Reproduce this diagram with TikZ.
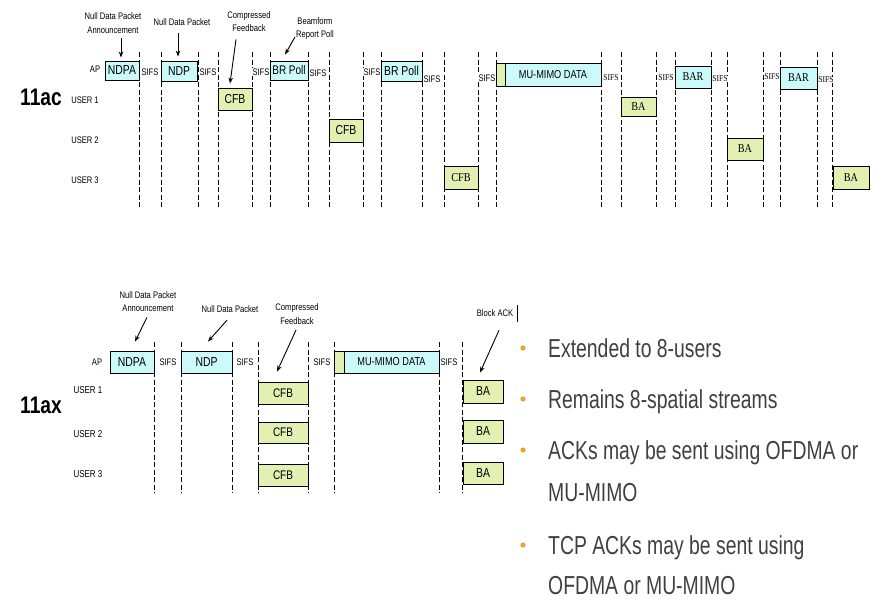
\documentclass[tikz,border=0pt]{standalone}
\usepackage{fontspec}
\setmainfont{Liberation Sans}
\newfontfamily\nar[FakeStretch=0.8]{Liberation Sans}
\newfontfamily\nars[FakeStretch=0.85]{Liberation Serif}
\newfontfamily\bul[FakeStretch=0.745]{Liberation Sans}
\usetikzlibrary{arrows.meta}
\definecolor{cyanfill}{RGB}{204,250,250}
\definecolor{greenfill}{RGB}{226,240,178}
\definecolor{bultext}{RGB}{64,64,64}
\definecolor{bulorange}{RGB}{240,160,48}
\begin{document}
\begin{tikzpicture}[x=1pt,y=-1pt,
  bs/.style 2 args={minimum width=#1pt,minimum height=#2pt},
  cybox/.style={draw=black,line width=0.9pt,inner sep=0pt,fill=cyanfill},
  grbox/.style={draw=black,line width=0.9pt,inner sep=0pt,fill=greenfill},
  fs/.style={font=\nar\fontsize{#1}{#1}\selectfont},
  sfs/.style={font=\nars\fontsize{#1}{#1}\selectfont},
  lbl/.style={inner sep=0pt,font=\nar\fontsize{#1}{#1}\selectfont},
  slbl/.style={inner sep=0pt,font=\nars\fontsize{#1}{#1}\selectfont},
  big/.style={inner sep=0pt,font=\nar\bfseries\fontsize{24}{24}\selectfont},
  vl/.style={line width=0.7pt,dash pattern=on 5pt off 2.5pt},
  arr/.style={-{Stealth[length=6pt,width=4.5pt]},line width=0.9pt},
  ann/.style={align=center,inner sep=1pt,font=\nar\fontsize{9.5}{13.5}\selectfont},
  bt/.style={inner sep=0pt,font=\bul\fontsize{26}{26}\selectfont,text=bultext}
]
\useasboundingbox (0,0) rectangle (891,605);
\fill[white] (0,0) rectangle (891,605);

% ---------- 11ac ----------
\foreach \x in {139,161,198,218,252,270,308,329,363,381,422,444,478,496,601,621,656,675,711,727,763,780,817,832}
  \draw[vl] (\x,52) -- (\x,207);

\node[big] (t11ac) at (41,97) {11ac};
\node[lbl=9.5] (tap) at (95,69) {AP};
\node[lbl=9.5] (tu1) at (85,100) {USER 1};
\node[lbl=9.5] (tu2) at (85,140) {USER 2};
\node[lbl=9.5] (tu3) at (85,180) {USER 3};

\node[cybox,bs={34}{19},fs=13] (tndpa) at (122,70.5) {NDPA};
\node[cybox,bs={36}{20},fs=13] (tndp) at (179,71) {NDP};
\node[cybox,bs={38}{19},fs=12.5] (tbr1) at (289,70.5) {BR Poll};
\node[cybox,bs={41}{20},fs=13] (tbr2) at (401.5,71) {BR Poll};
\node[grbox,bs={9}{23}] (tpre) at (500.5,74.5) {};
\node[cybox,bs={96}{23},fs=11.5] (tdata) at (553,74.5) {MU-MIMO DATA};
\node[cybox,bs={36}{22},sfs=12] (tbar1) at (693,77) {BAR};
\node[cybox,bs={37}{22},sfs=12] (tbar2) at (798.5,78) {BAR};
\node[grbox,bs={34}{22},fs=13] (tcfb1) at (235,99) {CFB};
\node[grbox,bs={34}{23},fs=13] (tcfb2) at (346,130.5) {CFB};
\node[grbox,bs={34}{23},sfs=12] (tcfb3) at (461,177.5) {CFB};
\node[grbox,bs={35}{19},sfs=12] (tba1) at (638.5,106.5) {BA};
\node[grbox,bs={36}{22},sfs=12] (tba2) at (745,149) {BA};
\node[grbox,bs={36}{23},sfs=12] (tba3) at (851,177.5) {BA};

\foreach \x/\y [count=\i] in {150/72,208/72,261/72,318/73,372/72,432/79,487/78}
  \node[lbl=9.5,fill=white,inner sep=0.3pt] (ts\i) at (\x,\y) {SIFS};
\foreach \x/\y [count=\i] in {611/78,666/78,720/79,772/77,826/80}
  \node[slbl=9,fill=white,inner sep=0.3pt] (tss\i) at (\x,\y) {SIFS};

\node[ann] (ta1) at (113,23) {Null Data Packet\\Announcement};
\node[ann] (ta2) at (182,22) {Null Data Packet};
\node[ann] (ta3) at (249,21.5) {Compressed\\Feedback};
\node[ann] (ta4) at (315,28.5) {Beamform\\Report Poll};
\draw[arr] ([xshift=8pt,yshift=-4pt]ta1.south) -- ([xshift=-1pt,yshift=3pt]tndpa.north);
\draw[arr] ([xshift=-4pt,yshift=-6.5pt]ta2.south) -- ([xshift=-1pt,yshift=4pt]tndp.north);
\draw[arr] ([xshift=-13pt,yshift=-6.5pt]ta3.south) -- ([xshift=-5pt,yshift=4pt]tcfb1.north);
\draw[arr] ([yshift=-8.5pt]ta4.west) -- ([xshift=-4pt,yshift=6pt]tbr1.north);

% ---------- 11ax ----------
\foreach \x in {154,181,232,258,308,334,439,462}
  \draw[vl] (\x,342) -- (\x,493);

\node[big] (t11ax) at (41,405) {11ax};
\node[lbl=9.5] (bap) at (97,362) {AP};
\node[lbl=10] (bu1) at (88,390) {USER 1};
\node[lbl=10] (bu2) at (88,434) {USER 2};
\node[lbl=10] (bu3) at (88,474) {USER 3};

\node[cybox,bs={44}{22},fs=13] (bndpa) at (132,362) {NDPA};
\node[cybox,bs={51}{22},fs=13] (bndp) at (206.5,362) {NDP};
\node[grbox,bs={50}{22},fs=12.5] (bcfb1) at (283,393) {CFB};
\node[grbox,bs={50}{21},fs=12.5] (bcfb2) at (283,432.5) {CFB};
\node[grbox,bs={50}{22},fs=12.5] (bcfb3) at (283,475) {CFB};
\node[grbox,bs={10}{22}] (bpre) at (339,362) {};
\node[cybox,bs={95}{22},fs=11.5] (bdata) at (391.5,362) {MU-MIMO DATA};
\node[grbox,bs={40}{23},fs=13] (bba1) at (483,391.5) {BA};
\node[grbox,bs={40}{23},fs=13] (bba2) at (483,431.5) {BA};
\node[grbox,bs={40}{22},fs=13] (bba3) at (483,473) {BA};

\foreach \x [count=\i] in {168,245,322,449}
  \node[lbl=9.5,fill=white,inner sep=0.3pt] (bs\i) at (\x,362) {SIFS};

\node[ann] (ba1) at (148,301.5) {Null Data Packet\\Announcement};
\node[ann] (ba2) at (230,309) {Null Data Packet};
\node[ann] (ba3) at (297,314) {Compressed\\Feedback};
\node[ann] (ba4) at (495,313) {Block ACK};
\draw[line width=0.8pt] ([xshift=3.5pt,yshift=8pt]ba4.east) -- ([xshift=3.5pt,yshift=-9pt]ba4.east);
\draw[arr] ([xshift=-1pt,yshift=-4.5pt]ba1.south) -- ([xshift=3pt,yshift=9pt]bndpa.north);
\draw[arr] ([xshift=-3pt,yshift=-6.5pt]ba2.south) -- ([xshift=1.5pt,yshift=9pt]bndp.north);
\draw[arr] ([xshift=-1pt,yshift=-4.6pt]ba3.south) -- ([xshift=-6pt,yshift=10pt]bcfb1.north);
\draw[arr] ([xshift=4pt,yshift=-12.6pt]ba4.south) -- ([xshift=-3pt,yshift=7pt]bba1.north);

% ---------- bullets ----------
\foreach \y in {348,399,450,545}
  \fill[bulorange] (523,\y) circle (2.6);
\node[bt,anchor=base west] (l1) at (548,357.5) {Extended to 8-users};
\node[bt,anchor=base west] (l2) at (548,408) {Remains 8-spatial streams};
\node[bt,anchor=base west] (l3) at (548,459.5) {ACKs may be sent using OFDMA or};
\node[bt,anchor=base west] (l4) at (548,501.5) {MU-MIMO};
\node[bt,anchor=base west] (l5) at (548,554) {TCP ACKs may be sent using};
\node[bt,anchor=base west] (l6) at (548,594.5) {OFDMA or MU-MIMO};
\end{tikzpicture}
\end{document}
